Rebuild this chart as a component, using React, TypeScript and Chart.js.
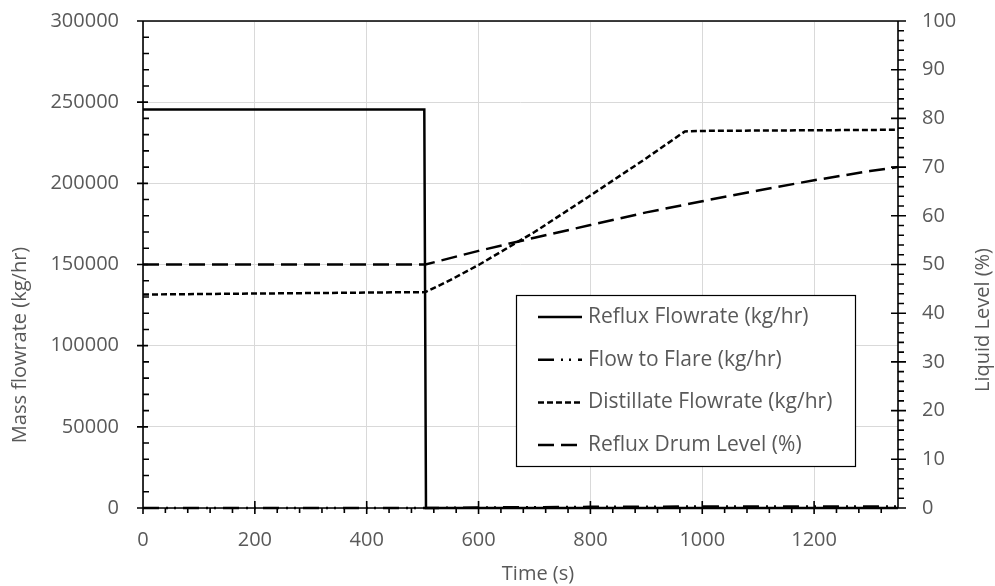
import React, { useEffect, useRef } from "react";
import { Chart, registerables } from "chart.js";
Chart.register(...registerables);

// ---- data ----
const refluxTime = [0, 503, 506, 1350];
const refluxFlow = [245500, 245500, 0, 0];

const flareTime = [0, 505, 600, 800, 1000, 1200, 1350];
const flareFlow = [0, 0, 300, 700, 900, 1000, 1000];

const distTime = [0, 100, 200, 300, 400, 505, 550, 600, 700, 800, 900, 969, 1000, 1350];
const distFlow = [131500, 131800, 132100, 132400, 132700, 133000, 140500, 149700, 170000, 192500, 215500, 232000, 232300, 233000];

const levelTime = [0, 505, 600, 700, 800, 900, 1000, 1100, 1200, 1300, 1350];
const levelPct = [50, 50, 52.8, 55.5, 58.1, 60.7, 63.0, 65.2, 67.3, 69.2, 70.0];

const seriesNames = [
  "Reflux Flowrate (kg/hr)",
  "Flow to Flare (kg/hr)",
  "Distillate Flowrate (kg/hr)",
  "Reflux Drum Level (%)",
];
const dashes: number[][] = [[], [16, 7, 2, 6, 2, 7], [6, 3], [16, 7]];

const xTitle = "Time (s)";
const yTitle = "Mass flowrate (kg/hr)";
const y1Title = "Liquid Level (%)";

const FONT = "'Open Sans', 'Liberation Sans', sans-serif";
const GRAY = "#595959";

const toXY = (xs: number[], ys: number[]) => xs.map((x, i) => ({ x, y: ys[i] }));

const axesPlugin = {
  id: "excelAxes",
  beforeDatasetsDraw(chart: any) {
    const { ctx, chartArea: a, scales } = chart;
    const xs = scales.x, ys = scales.y, y1 = scales.y1;
    ctx.save();
    ctx.strokeStyle = "#000";
    ctx.lineWidth = 1.6;
    ctx.beginPath();
    // frame
    ctx.moveTo(a.left, a.top); ctx.lineTo(a.right, a.top);
    ctx.moveTo(a.left, a.bottom); ctx.lineTo(a.right, a.bottom);
    ctx.moveTo(a.left, a.top); ctx.lineTo(a.left, a.bottom);
    ctx.moveTo(a.right, a.top); ctx.lineTo(a.right, a.bottom);
    // x ticks
    for (let v = 0; v <= xs.max + 0.1; v += 40) {
      const p = xs.getPixelForValue(v);
      if (v % 200 === 0) { ctx.moveTo(p, a.bottom - 7); ctx.lineTo(p, a.bottom + 6); }
      else { ctx.moveTo(p, a.bottom); ctx.lineTo(p, a.bottom + 5); }
    }
    // left ticks
    for (let v = 0; v <= ys.max + 1; v += 10000) {
      const p = ys.getPixelForValue(v);
      if (v % 50000 === 0) { ctx.moveTo(a.left - 6, p); ctx.lineTo(a.left + 5, p); }
      else { ctx.moveTo(a.left, p); ctx.lineTo(a.left + 6, p); }
    }
    // right ticks
    for (let v = 0; v <= y1.max + 0.01; v += 2) {
      const p = y1.getPixelForValue(v);
      if (v % 10 === 0) { ctx.moveTo(a.right - 7, p); ctx.lineTo(a.right + 8, p); }
      else { ctx.moveTo(a.right, p); ctx.lineTo(a.right + 6, p); }
    }
    ctx.stroke();
    ctx.restore();
  },
  afterDraw(chart: any) {
    const { ctx, chartArea: a } = chart;
    ctx.save();
    // axis titles
    ctx.fillStyle = GRAY;
    ctx.font = `20px ${FONT}`;
    ctx.textAlign = "center";
    ctx.textBaseline = "middle";
    ctx.fillText(xTitle, 538, 574);
    ctx.save();
    ctx.translate(20, 345);
    ctx.rotate(-Math.PI / 2);
    ctx.fillText(yTitle, 0, 0);
    ctx.restore();
    ctx.save();
    ctx.translate(983, 320);
    ctx.rotate(-Math.PI / 2);
    ctx.fillText(y1Title, 0, 0);
    ctx.restore();

    // legend
    const lx = a.left + 373, ly = a.top + 274, lw = 339, lh = 171;
    ctx.fillStyle = "#fff";
    ctx.fillRect(lx, ly, lw, lh);
    ctx.strokeStyle = "#000";
    ctx.lineWidth = 1.2;
    ctx.strokeRect(lx + 0.5, ly + 0.5, lw, lh);
    ctx.font = `21px ${FONT}`;
    ctx.textAlign = "left";
    ctx.textBaseline = "middle";
    seriesNames.forEach((name, i) => {
      const yy = ly + 22 + i * 42.7;
      ctx.beginPath();
      ctx.setLineDash(dashes[i]);
      ctx.lineWidth = 2.5;
      ctx.strokeStyle = "#000";
      ctx.moveTo(lx + 22, yy);
      ctx.lineTo(lx + 66, yy);
      ctx.stroke();
      ctx.setLineDash([]);
      ctx.fillStyle = GRAY;
      ctx.fillText(name, lx + 72, yy);
    });
    ctx.restore();
  },
};

export default function App() {
  const ref = useRef<HTMLCanvasElement | null>(null);
  useEffect(() => {
    if (!ref.current) return;
    const tickFont = { family: FONT, size: 20 };
    const chart = new Chart(ref.current, {
      type: "line",
      data: {
        datasets: [
          { label: seriesNames[0], data: toXY(refluxTime, refluxFlow), yAxisID: "y", borderDash: dashes[0] },
          { label: seriesNames[1], data: toXY(flareTime, flareFlow), yAxisID: "y", borderDash: dashes[1] },
          { label: seriesNames[2], data: toXY(distTime, distFlow), yAxisID: "y", borderDash: dashes[2] },
          { label: seriesNames[3], data: toXY(levelTime, levelPct), yAxisID: "y1", borderDash: dashes[3] },
        ].map((d) => ({
          ...d,
          borderColor: "#000",
          backgroundColor: "#000",
          borderWidth: 2.5,
          pointRadius: 0,
          tension: 0,
          fill: false,
          clip: 6,
        })),
      },
      options: {
        animation: false,
        responsive: true,
        maintainAspectRatio: false,
        devicePixelRatio: 1,
        layout: { padding: { top: 21, left: 0, right: 0, bottom: 0 } },
        plugins: { legend: { display: false }, tooltip: { enabled: false }, title: { display: false } },
        scales: {
          x: {
            type: "linear",
            min: 0,
            max: 1350,
            border: { display: false },
            grid: { color: "#d9d9d9", lineWidth: 1, drawTicks: false },
            ticks: { stepSize: 200, includeBounds: false, padding: 20, color: GRAY, font: tickFont, maxRotation: 0, callback: (v: any) => String(v) },
            afterFit: (s: any) => { s.height = 78; s.paddingLeft = 0; s.paddingRight = 0; },
          },
          y: {
            type: "linear",
            position: "left",
            min: 0,
            max: 300000,
            border: { display: false },
            grid: { color: "#d9d9d9", lineWidth: 1, drawTicks: false },
            ticks: { stepSize: 50000, padding: 24, color: GRAY, font: tickFont, callback: (v: any) => String(v) },
            afterFit: (s: any) => { s.width = 143; s.paddingTop = 0; s.paddingBottom = 0; },
          },
          y1: {
            type: "linear",
            position: "right",
            min: 0,
            max: 100,
            border: { display: false },
            grid: { display: false, drawTicks: false },
            ticks: { stepSize: 10, padding: 24, color: GRAY, font: tickFont, callback: (v: any) => String(v) },
            afterFit: (s: any) => { s.width = 97; s.paddingTop = 0; s.paddingBottom = 0; },
          },
        },
      },
      plugins: [axesPlugin],
    } as any);
    return () => chart.destroy();
  }, []);
  return (
    <div style={{ position: "absolute", left: 0, top: 0, width: 995, height: 586, background: "#fff" }}>
      <canvas ref={ref} />
    </div>
  );
}
